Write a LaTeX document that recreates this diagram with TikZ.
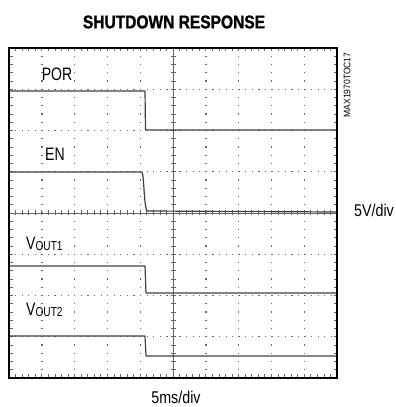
\documentclass[tikz,border=0pt]{standalone}
\usepackage{fontspec}
\setmainfont{Liberation Sans}
\newfontfamily\narrowfont[FakeStretch=0.78]{Liberation Sans}
\newfontfamily\midfont[FakeStretch=0.84]{Liberation Sans}
\newfontfamily\notefont[FakeStretch=0.9]{Liberation Sans}
\newfontfamily\titlefont[FakeStretch=0.84,FakeBold=1.2]{Liberation Sans}
\begin{document}
\begin{tikzpicture}[x=1pt,y=1pt,
  frame/.style={line width=2.2pt,black},
  griddot/.style={line width=1.4pt,black!60,dash pattern=on 1.2pt off 7.05pt,dash phase=0.6pt},
  griddoth/.style={line width=1.4pt,black!60,dash pattern=on 1.2pt off 5.38pt,dash phase=0.6pt},
  axis/.style={line width=0.7pt,black!60},
  tick/.style={line width=0.7pt,black!60},
  trace/.style={line width=1.2pt,black!75,line join=round},
  lbl/.style={font=\narrowfont\fontsize{18}{18}\selectfont,inner sep=0pt},
  unit/.style={font=\midfont\fontsize{17}{17}\selectfont,inner sep=0pt},
  title/.style={font=\titlefont\bfseries\fontsize{18.5}{18.5}\selectfont,inner sep=0pt},
  note/.style={font=\notefont\fontsize{9.5}{9.5}\selectfont,inner sep=0pt}]
\useasboundingbox (0,0) rectangle (396,407);
% grid dotted lines
\foreach \k in {1,2,3,4,6,7,8,9}
  \draw[griddot] ({9+32.8*\k},29) -- ({9+32.8*\k},359);
\foreach \j in {1,2,3,5,6,7}
  \draw[griddoth] (9,{29+41.25*\j}) -- (337,{29+41.25*\j});
% center axes
\draw[axis] (173,29) -- (173,359);
\draw[axis] (9,194) -- (337,194);
\foreach \i in {1,...,49}
  \draw[tick] ({9+6.56*\i},191.5) -- ({9+6.56*\i},196.5);
\foreach \i in {1,...,39}
  \draw[tick] (170.5,{29+8.25*\i}) -- (175.5,{29+8.25*\i});
% edge ticks
\foreach \i in {1,...,49} {
  \draw[tick] ({9+6.56*\i},29) -- ({9+6.56*\i},32.5);
  \draw[tick] ({9+6.56*\i},359) -- ({9+6.56*\i},355.5);
}
\foreach \i in {1,...,39} {
  \draw[tick] (9,{29+8.25*\i}) -- (12.5,{29+8.25*\i});
  \draw[tick] (337,{29+8.25*\i}) -- (333.5,{29+8.25*\i});
}
% traces
\draw[trace] (9,316) -- (145,316) -- (145.5,277) -- (337,277);
\draw[trace] (9,235) -- (142,235) .. controls (144,232) and (144,200) .. (147,196) -- (337,195);
\draw[trace] (9,141) -- (145,141) -- (146,114) -- (337,114);
\draw[trace] (9,71) -- (145,71) -- (146,51) -- (337,51);
% frame
\draw[frame] (9,29) rectangle (337,359);
% labels
\node[title] (t) at (174,385) {SHUTDOWN RESPONSE};
\node[lbl] (por) at (57,333) {POR};
\node[lbl] (en) at (55,253) {EN};
\node[lbl,anchor=west] (v1) at (26,163) {V\raisebox{-1.5pt}{\fontsize{13}{13}\selectfont OUT1}};
\node[lbl,anchor=west] (v2) at (26,97) {V\raisebox{-1.5pt}{\fontsize{13}{13}\selectfont OUT2}};
\node[unit,anchor=west] (vd) at (354,197) {5V/div};
\node[unit] (td) at (176,10) {5ms/div};
\node[note,rotate=90] (id) at (347,322) {MAX1970TOC17};
\end{tikzpicture}
\end{document}
